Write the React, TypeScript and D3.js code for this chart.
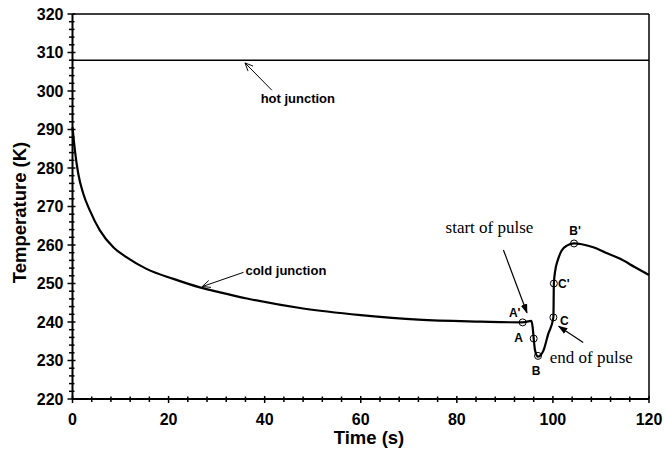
import React from "react";
import * as d3 from "d3";

// hot junction stays flat at ~308 K
const hotTime = [0, 10, 20, 30, 40, 50, 60, 70, 80, 90, 100, 110, 120];
const hotTemp = [308, 308, 308, 308, 308, 308, 308, 308, 308, 308, 308, 308, 308];

// cold junction trace
const coldTime = [
  0, 0.5, 1.2, 2.25, 3.6, 5.7, 8.5, 11.3, 15.4, 21, 26.5, 30.7, 36.3, 48, 60,
  72, 85, 93.7, 95.5, 95.8, 96.0, 96.3, 96.9, 97.5, 98, 99, 100.1, 100.2, 100.5,
  101, 101.8, 103, 104.4, 106, 108.4, 111, 114, 117, 120,
];
const coldTemp = [
  290.6, 284.6, 278.5, 273.3, 269.0, 263.8, 259.4, 256.8, 253.8, 251.2, 249.0,
  247.7, 246.1, 243.5, 241.8, 240.6, 240.1, 239.9, 240.3, 238.5, 235.7, 232.5,
  231.0, 231.5, 232.5, 236.8, 241.2, 250.0, 253.5, 256, 258.5, 259.9, 260.4,
  260.2, 259.4, 258, 256.4, 254.3, 252.2,
];

// labelled points on the pulse
const pointNames = ["A'", "A", "B", "C", "C'", "B'"];
const pointTime = [93.7, 96.0, 96.9, 100.1, 100.2, 104.4];
const pointTemp = [239.9, 235.7, 231.2, 241.2, 250.0, 260.4];

const xTicks = [0, 20, 40, 60, 80, 100, 120];
const yTicks = [220, 230, 240, 250, 260, 270, 280, 290, 300, 310, 320];

const W = 665;
const H = 451;
const margin = { top: 14, right: 16, bottom: 52, left: 72.5 };

const App = () => {
  const x = d3.scaleLinear().domain([0, 120]).range([margin.left, W - margin.right]);
  const y = d3.scaleLinear().domain([220, 320]).range([H - margin.bottom, margin.top]);

  const line = d3
    .line<number>()
    .x((d) => x(coldTime[d]))
    .y((d) => y(coldTemp[d]))
    .curve(d3.curveMonotoneX);

  const hotLine = d3
    .line<number>()
    .x((d) => x(hotTime[d]))
    .y((d) => y(hotTemp[d]));

  const x0 = x(0);
  const x1 = x(120);
  const y0 = y(220);
  const y1 = y(320);

  const xMinor = d3.range(0, 121, 4);
  const yMinor = d3.range(220, 321, 2);

  // label offsets around the circles (px)
  const labelOffset = [
    [-8, -10],
    [-15, -1],
    [-2, 15],
    [11, 3],
    [10, 0],
    [1, -13],
  ];

  const sans = "'Liberation Sans', Arial, Helvetica, sans-serif";
  const serif = "'Liberation Serif', 'Times New Roman', serif";

  return (
    <svg
      width={W}
      height={H}
      style={{ position: "absolute", left: 0, top: 0, background: "#fff" }}
    >
      <defs>
        <marker id="open" viewBox="0 0 10 10" refX="9" refY="5" markerWidth="9" markerHeight="9" orient="auto">
          <path d="M0,1 L9,5 L0,9" fill="none" stroke="#000" strokeWidth="1" />
        </marker>
        <marker id="solid" viewBox="0 0 10 10" refX="9" refY="5" markerWidth="8" markerHeight="8" orient="auto">
          <path d="M0,1.5 L10,5 L0,8.5 Z" fill="#000" />
        </marker>
      </defs>

      {/* frame */}
      <line x1={x0} x2={x1} y1={y1} y2={y1} stroke="#000" strokeWidth={1.5} />
      <line x1={x1} x2={x1} y1={y1} y2={y0} stroke="#000" strokeWidth={1.5} />
      <line x1={x0} x2={x1} y1={y0} y2={y0} stroke="#000" strokeWidth={2} />
      <line x1={x0} x2={x0} y1={y1} y2={y0} stroke="#000" strokeWidth={2} />

      {/* x ticks */}
      {xMinor.map((t) => {
        const major = t % 20 === 0;
        return (
          <line
            key={"xt" + t}
            x1={x(t)}
            x2={x(t)}
            y1={y0 - (major ? 3 : 2.5)}
            y2={y0 + (major ? 4 : 3)}
            stroke="#000"
            strokeWidth={1.5}
          />
        );
      })}
      {xTicks.map((t) => (
        <text
          key={"xl" + t}
          x={x(t)}
          y={y0 + 26}
          textAnchor="middle"
          fontFamily={sans}
          fontWeight="bold"
          fontSize={16}
        >
          {t}
        </text>
      ))}

      {/* y ticks */}
      {yMinor.map((t) => {
        const major = t % 10 === 0;
        return (
          <line
            key={"yt" + t}
            x1={x0 - (major ? 5 : 3.5)}
            x2={x0 + (major ? 3 : 2)}
            y1={y(t)}
            y2={y(t)}
            stroke="#000"
            strokeWidth={1.5}
          />
        );
      })}
      {yTicks.map((t) => (
        <text
          key={"yl" + t}
          x={x0 - 9}
          y={y(t)}
          dy="0.36em"
          textAnchor="end"
          fontFamily={sans}
          fontWeight="bold"
          fontSize={16}
        >
          {t}
        </text>
      ))}

      {/* axis titles */}
      <text
        x={369}
        y={y0 + 45}
        textAnchor="middle"
        fontFamily={sans}
        fontWeight="bold"
        fontSize={18.5}
      >
        Time (s)
      </text>
      <text
        transform={`translate(26,${(y0 + y1) / 2 + 6}) rotate(-90)`}
        textAnchor="middle"
        fontFamily={sans}
        fontWeight="bold"
        fontSize={18.5}
      >
        Temperature (K)
      </text>

      {/* series */}
      <path d={hotLine(d3.range(hotTime.length)) ?? ""} fill="none" stroke="#000" strokeWidth={1.6} />
      <path d={line(d3.range(coldTime.length)) ?? ""} fill="none" stroke="#000" strokeWidth={2.2} />

      {/* pulse points */}
      {pointNames.map((n, i) => (
        <g key={n}>
          <circle cx={x(pointTime[i])} cy={y(pointTemp[i])} r={3.5} fill="none" stroke="#000" strokeWidth={1} />
          <text
            x={x(pointTime[i]) + labelOffset[i][0]}
            y={y(pointTemp[i]) + labelOffset[i][1]}
            dy="0.36em"
            textAnchor="middle"
            fontFamily={sans}
            fontWeight="bold"
            fontSize={12}
          >
            {n}
          </text>
        </g>
      ))}

      {/* annotations */}
      <line x1={x(41.5)} y1={y(300.2)} x2={x(35.9)} y2={y(307.3)} stroke="#000" strokeWidth={1} markerEnd="url(#open)" />
      <text x={x(46.9)} y={y(298.1)} dy="0.36em" textAnchor="middle" fontFamily={sans} fontWeight="bold" fontSize={13}>
        hot junction
      </text>

      <line x1={x(35.6)} y1={y(252.9)} x2={x(27)} y2={y(249.2)} stroke="#000" strokeWidth={1} markerEnd="url(#open)" />
      <text x={x(36)} y={y(253.3)} dy="0.36em" textAnchor="start" fontFamily={sans} fontWeight="bold" fontSize={13}>
        cold junction
      </text>

      <line x1={x(89.7)} y1={y(258.7)} x2={x(94.6)} y2={y(242.4)} stroke="#000" strokeWidth={1.2} markerEnd="url(#solid)" />
      <text x={x(86.8)} y={y(264.6)} dy="0.33em" textAnchor="middle" fontFamily={serif} fontSize={17}>
        start of pulse
      </text>

      <line x1={x(106.3)} y1={y(234.7)} x2={x(101.2)} y2={y(238.9)} stroke="#000" strokeWidth={1.2} markerEnd="url(#solid)" />
      <text x={x(108)} y={y(230.8)} dy="0.33em" textAnchor="middle" fontFamily={serif} fontSize={17}>
        end of pulse
      </text>
    </svg>
  );
};

export default App;
